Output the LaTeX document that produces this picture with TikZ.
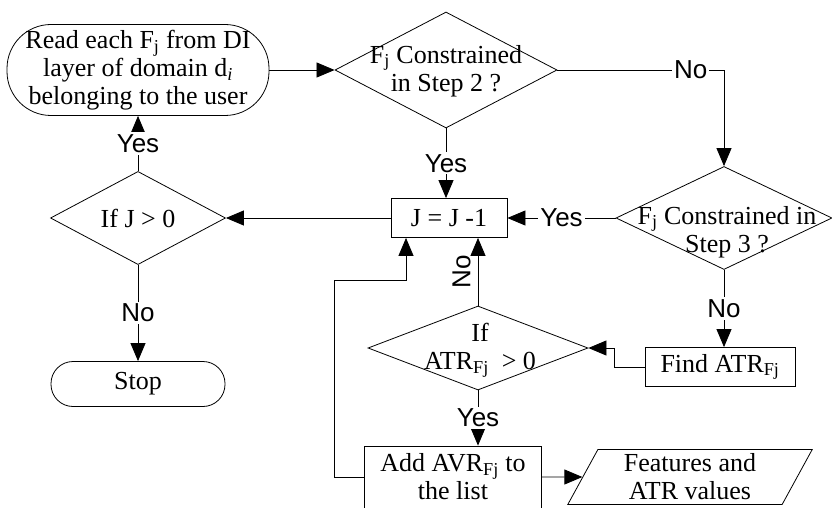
\documentclass[tikz,border=0pt]{standalone}
\usepackage{fontspec}
\setmainfont{Liberation Serif}
\setsansfont{Liberation Sans}
\usetikzlibrary{shapes.geometric,arrows.meta}

\begin{document}
\begin{tikzpicture}[x=1pt, y=-1pt, line width=0.8pt,
    every node/.style={font=\fontsize{26}{28}\selectfont},
    box/.style={draw, rectangle, inner sep=0pt},
    dec/.style={draw, diamond, inner sep=0pt},
    io/.style={draw, trapezium, trapezium left angle=65, trapezium right angle=115,
        trapezium stretches=true, inner sep=0pt},
    lab/.style={fill=white, inner sep=2pt, font=\sffamily\fontsize{26}{28}\selectfont},
    arr/.style={-{Triangle[length=18pt,width=15pt]}}]
    \useasboundingbox (0,0) rectangle (832,508);

    \node[box, rounded corners=44pt, minimum width=262, minimum height=91, align=center] (read) at (138,70)
        {Read each F\textsubscript{j} from DI\\layer of domain d\textsubscript{\textit{i}}\\belonging to the user};
    \node[dec, minimum width=222, minimum height=116] (step2) at (446,70) {};
    \node[align=center] (step2txt) at (446,71) {F\textsubscript{j} Constrained\\in Step 2 ?};
    \node[dec, minimum width=216, minimum height=103] (step3) at (724,218) {};
    \node[align=center] (step3txt) at (727,232) {F\textsubscript{j} Constrained in\\Step 3 ?};
    \node[box, minimum width=116, minimum height=39] (jdec) at (449,218) {J = J -1};
    \node[dec, minimum width=175, minimum height=64] (ifj) at (138,218) {If J > 0};
    \node[box, rounded corners=22pt, minimum width=174, minimum height=45] (stop) at (138,384) {Stop};
    \node[box, minimum width=150, minimum height=39] (find) at (720,367) {Find ATR\textsubscript{Fj}};
    \node[dec, minimum width=220, minimum height=84] (atr) at (478,348) {};
    \node[align=center] (atrtxt) at (480,350) {If\\ATR\textsubscript{Fj}~ > 0};
    \node[box, minimum width=177, minimum height=62, align=center] (add) at (453,477)
        {Add AVR\textsubscript{Fj} to\\the list};
    \node[io, minimum width=245, minimum height=55, align=center] (out) at (690,477)
        {Features and\\ATR values};
    \coordinate (loop) at (406,280);

    \draw[arr] (read) -- (step2);
    \draw[arr] (step2.south) -- node[lab]{Yes} (step2.south |- jdec.north);
    \draw[arr] (step2.east) -| node[lab, pos=0.4]{No} (step3.north);
    \draw[arr] (step3.west) -- node[lab]{Yes} (jdec.east);
    \draw[arr] (jdec.west) -- (ifj.east);
    \draw[arr] (ifj.north) -- node[lab]{Yes} (read.south);
    \draw[arr] (ifj.south) -- node[lab]{No} (stop.north);
    \draw[arr] (step3.south) -- node[lab]{No} (step3.south |- find.north);
    \draw[arr] (find.west) -- ++(-30,0) |- (atr.east);
    \draw[arr] (atr.north) -- node[midway, rotate=90, anchor=south, inner sep=7pt,
        font=\sffamily\fontsize{26}{28}\selectfont]{No} (atr.north |- jdec.south);
    \draw[arr] (atr.south) -- node[lab]{Yes} (atr.south |- add.north);
    \draw[arr] (add.east) -- (out);
    \draw[arr] (add.west) -- ++(-30,0) |- (loop) -- (loop |- jdec.south);
\end{tikzpicture}
\end{document}
